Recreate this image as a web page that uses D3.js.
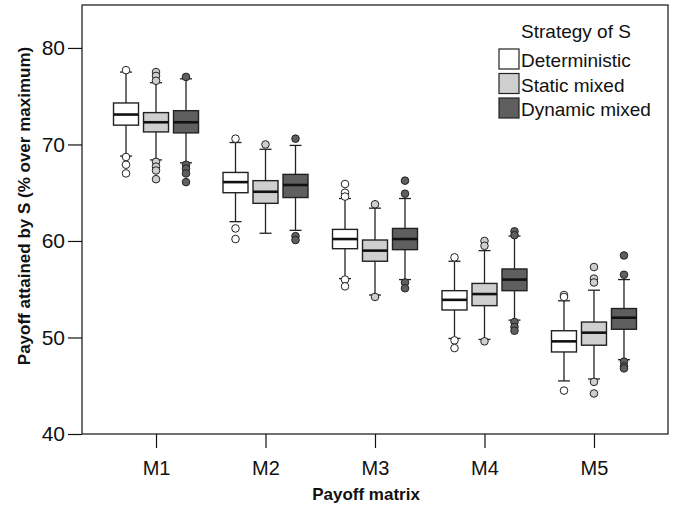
<!DOCTYPE html>
<html>
<head>
<meta charset="utf-8">
<script src="https://cdn.jsdelivr.net/npm/d3@7"></script>
<style>
  body { margin: 0; background: #fff; }
  text { font-family: "Liberation Sans", Arial, sans-serif; fill: #111; }
</style>
</head>
<body>
<div id="chart"></div>
<script>
// data: [lower whisker, q1, median, q3, upper whisker]
const matrices = ["M1", "M2", "M3", "M4", "M5"]
const strategies = ["Deterministic", "Static mixed", "Dynamic mixed"]
const fills = ["#ffffff", "#cfcfcf", "#5f5f5f"]

const deterministic = [
  [68.8, 72.0, 73.1, 74.3, 77.5],
  [62.0, 65.0, 66.1, 67.1, 70.2],
  [56.1, 59.2, 60.2, 61.2, 64.4],
  [49.9, 52.85, 53.9, 54.85, 57.9],
  [45.5, 48.5, 49.6, 50.7, 53.8]
]
const staticMixed = [
  [68.4, 71.3, 72.3, 73.3, 76.4],
  [60.8, 63.9, 65.1, 66.25, 69.5],
  [54.4, 57.9, 59.0, 60.1, 63.4],
  [49.8, 53.3, 54.5, 55.6, 59.0],
  [45.7, 49.2, 50.5, 51.6, 54.9]
]
const dynamicMixed = [
  [68.1, 71.2, 72.3, 73.5, 76.8],
  [61.1, 64.5, 65.8, 66.9, 69.9],
  [56.0, 59.1, 60.2, 61.3, 64.4],
  [51.8, 54.85, 56.0, 57.1, 60.5],
  [47.7, 50.85, 52.05, 53.0, 56.0]
]

const deterministicOut = [
  [77.7, 68.7, 67.9, 67.0],
  [70.6, 61.3, 60.2],
  [65.9, 65.0, 64.6, 56.0, 55.3],
  [58.3, 49.7, 48.9],
  [54.4, 54.2, 44.5]
]
const staticOut = [
  [77.5, 77.1, 76.6, 68.2, 67.7, 67.3, 66.4],
  [70.0],
  [63.8, 54.2],
  [60.0, 59.5, 49.6],
  [57.3, 56.1, 55.7, 45.4, 44.2]
]
const dynamicOut = [
  [77.0, 67.9, 67.5, 67.0, 66.1],
  [70.6, 60.5, 60.1],
  [66.25, 64.9, 55.7, 55.1],
  [61.0, 60.6, 51.6, 51.1, 50.7],
  [58.5, 56.5, 47.5, 47.0, 46.8]
]

const yTicks = [40, 50, 60, 70, 80]

const W = 679, H = 510
const plot = {left: 82, right: 668, top: 5, bottom: 434}

const svg = d3.select("#chart").append("svg")
  .attr("width", W)
  .attr("height", H)

const x = d3.scalePoint()
  .domain(matrices)
  .range([plot.left, plot.right])
  .padding(0.676)
const xs = d3.scalePoint()
  .domain(strategies)
  .range([-30, 30])
const y = d3.scaleLinear()
  .domain([40, 84.45])
  .range([plot.bottom, plot.top])
const color = d3.scaleOrdinal().domain(strategies).range(fills)

// frame
svg.append("rect")
  .attr("x", plot.left).attr("y", plot.top)
  .attr("width", plot.right - plot.left)
  .attr("height", plot.bottom - plot.top)
  .attr("fill", "none").attr("stroke", "#111").attr("stroke-width", 1.2)

// axes
const yAxis = svg.append("g")
  .attr("transform", `translate(${plot.left},0)`)
  .call(d3.axisLeft(y).tickValues(yTicks).tickSize(14).tickPadding(3))
yAxis.select(".domain").remove()
yAxis.selectAll("text").attr("font-size", 21).style("font-family", '"Liberation Sans", Arial')
yAxis.selectAll("line").attr("stroke", "#111").attr("stroke-width", 1.2)

const xAxis = svg.append("g")
  .attr("transform", `translate(0,${plot.bottom})`)
  .call(d3.axisBottom(x).tickSize(14).tickPadding(13))
xAxis.select(".domain").remove()
xAxis.selectAll("text").attr("font-size", 20).style("font-family", '"Liberation Sans", Arial')
xAxis.selectAll("line").attr("stroke", "#111").attr("stroke-width", 1.2)

svg.append("text")
  .attr("x", 366)
  .attr("y", 500)
  .attr("text-anchor", "middle")
  .attr("font-size", 17).attr("font-weight", "bold")
  .text("Payoff matrix")

svg.append("text")
  .attr("transform", "translate(30,206) rotate(-90)")
  .attr("text-anchor", "middle")
  .attr("font-size", 17).attr("font-weight", "bold")
  .text("Payoff attained by S (% over maximum)")

// boxes
const series = [deterministic, staticMixed, dynamicMixed]
const outs = [deterministicOut, staticOut, dynamicOut]
const boxes = []
const points = []
series.forEach((s, si) => s.forEach((d, mi) => {
  boxes.push({m: matrices[mi], s: strategies[si], v: d})
  outs[si][mi].forEach(o => points.push({m: matrices[mi], s: strategies[si], v: o}))
}))

const bw = 25, cw = 12
const g = svg.selectAll(".box")
  .data(boxes)
  .join("g")
  .attr("class", "box")
  .attr("transform", d => `translate(${x(d.m) + xs(d.s)},0)`)

g.append("line")
  .attr("y1", d => y(d.v[0])).attr("y2", d => y(d.v[4]))
  .attr("stroke", "#222").attr("stroke-width", 1.3)
g.append("line")
  .attr("x1", -cw / 2).attr("x2", cw / 2)
  .attr("y1", d => y(d.v[0])).attr("y2", d => y(d.v[0]))
  .attr("stroke", "#222").attr("stroke-width", 1.3)
g.append("line")
  .attr("x1", -cw / 2).attr("x2", cw / 2)
  .attr("y1", d => y(d.v[4])).attr("y2", d => y(d.v[4]))
  .attr("stroke", "#222").attr("stroke-width", 1.3)
g.append("rect")
  .attr("x", -bw / 2).attr("width", bw)
  .attr("y", d => y(d.v[3]))
  .attr("height", d => y(d.v[1]) - y(d.v[3]))
  .attr("fill", d => color(d.s))
  .attr("stroke", "#222").attr("stroke-width", 1.4)
g.append("line")
  .attr("x1", -bw / 2).attr("x2", bw / 2)
  .attr("y1", d => y(d.v[2])).attr("y2", d => y(d.v[2]))
  .attr("stroke", "#111").attr("stroke-width", 2.6)

svg.selectAll(".outlier")
  .data(points)
  .join("circle")
  .attr("class", "outlier")
  .attr("cx", d => x(d.m) + xs(d.s))
  .attr("cy", d => y(d.v))
  .attr("r", 3.8)
  .attr("fill", d => color(d.s))
  .attr("stroke", "#222").attr("stroke-width", 1)

// legend
const legend = svg.append("g")
svg.append("text")
  .attr("x", 576).attr("y", 38)
  .attr("text-anchor", "middle")
  .attr("font-size", 19)
  .text("Strategy of S")
const li = legend.selectAll("g")
  .data(strategies)
  .join("g")
  .attr("transform", (d, i) => `translate(499,${49 + i * 24.5})`)
li.append("rect")
  .attr("width", 20).attr("height", 20)
  .attr("fill", d => color(d))
  .attr("stroke", "#222").attr("stroke-width", 1.2)
li.append("text")
  .attr("x", 22).attr("y", 18)
  .attr("font-size", 19)
  .text(d => d)
</script>
</body>
</html>
